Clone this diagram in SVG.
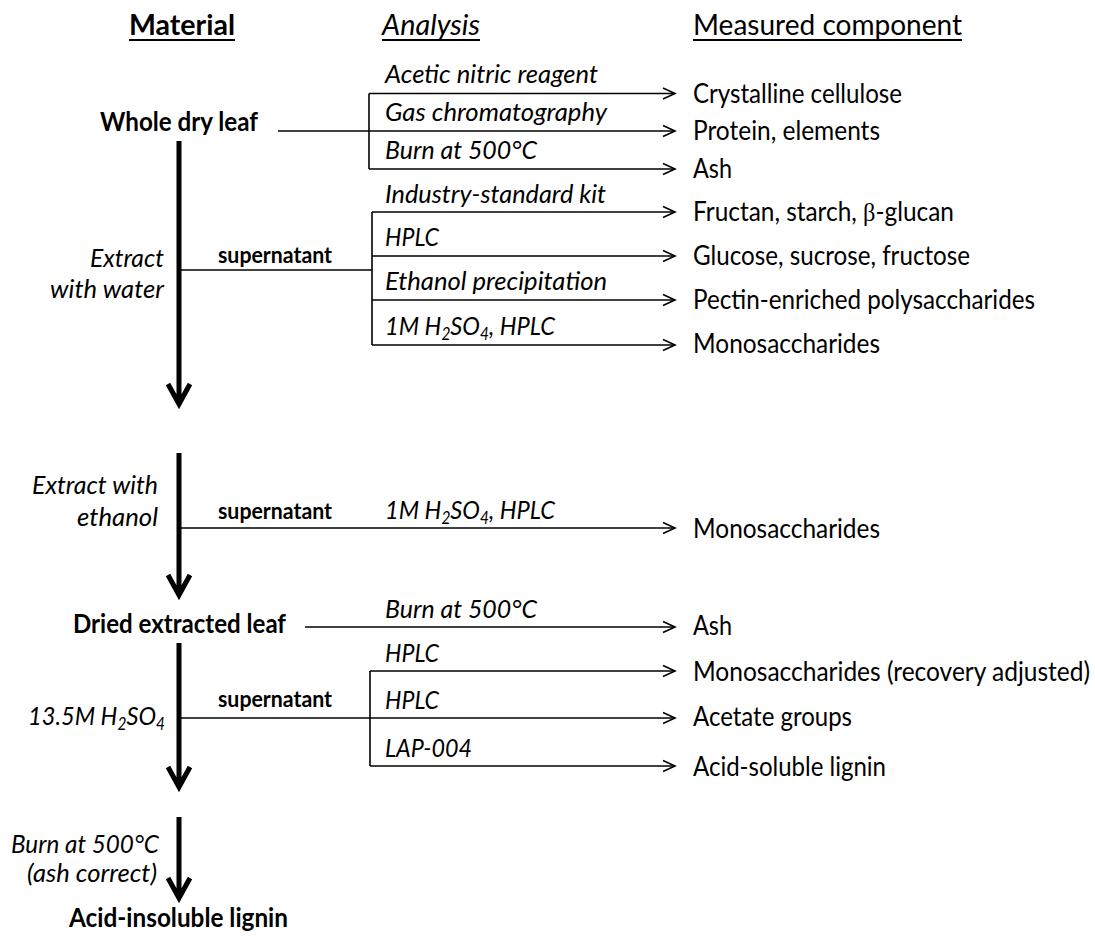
<svg xmlns="http://www.w3.org/2000/svg" width="1095" height="939" viewBox="0 0 1095 939">
<style>
text{font-family:Lato,"Liberation Sans",sans-serif;font-size:26px;fill:#000}
.i{font-style:italic}
.b{font-weight:bold}
.h{font-size:29px}
.s{font-size:22px;font-weight:bold}
.sub{font-size:17px}
.ln{stroke:#000;stroke-width:1.6;fill:none}
.arr{marker-end:url(#open)}
.thick{stroke:#000;stroke-width:5;fill:none;stroke-linejoin:miter;stroke-miterlimit:10}
.ul{stroke:#000;stroke-width:1.8}
</style>
<defs>
<marker id="open" markerUnits="userSpaceOnUse" viewBox="-14 -8 16 16" refX="0" refY="0" markerWidth="16" markerHeight="16" orient="auto" overflow="visible">
<path d="M-12,-5.5 L0,0 L-12,5.5" fill="none" stroke="#000" stroke-width="1.6"/>
</marker>
</defs>

<g id="headers">
<text class="b h" x="129" y="35" textLength="106" lengthAdjust="spacingAndGlyphs">Material</text>
<line class="ul" x1="129" y1="40" x2="235" y2="40"/>
<text class="i h" x="382" y="35" textLength="98" lengthAdjust="spacingAndGlyphs">Analysis</text>
<line class="ul" x1="382" y1="40" x2="480" y2="40"/>
<text class="h" x="693" y="35" textLength="269" lengthAdjust="spacingAndGlyphs">Measured component</text>
<line class="ul" x1="693" y1="40" x2="962" y2="40"/>
</g>

<g id="connectors">
<!-- whole dry leaf -->
<path class="ln arr" d="M278,131 H675"/>
<path class="ln" d="M369,93.5 V169"/>
<path class="ln arr" d="M369,93.5 H675"/>
<path class="ln arr" d="M369,169 H675"/>
<!-- water supernatant -->
<path class="ln" d="M179,270 H372"/>
<path class="ln" d="M372,212 V345"/>
<path class="ln arr" d="M372,212 H675"/>
<path class="ln arr" d="M372,256 H675"/>
<path class="ln arr" d="M372,300 H675"/>
<path class="ln arr" d="M372,345 H675"/>
<!-- ethanol supernatant -->
<path class="ln arr" d="M179,528 H675"/>
<!-- dried extracted leaf -->
<path class="ln arr" d="M305,627 H675"/>
<!-- 13.5M supernatant -->
<path class="ln arr" d="M179,718 H675"/>
<path class="ln" d="M370,671 V766"/>
<path class="ln arr" d="M370,671 H675"/>
<path class="ln arr" d="M370,766 H675"/>
<!-- thick process arrows -->
<path class="thick" d="M179,141 V404 M168,384 L179,404 L190,384"/>
<path class="thick" d="M179,453 V595 M168,575 L179,595 L190,575"/>
<path class="thick" d="M179,643 V787 M168,767 L179,787 L190,767"/>
<path class="thick" d="M179,817 V898 M168,878 L179,898 L190,878"/>
</g>

<g id="whole-dry-leaf">
<text class="b" x="100" y="131" textLength="158" lengthAdjust="spacingAndGlyphs">Whole dry leaf</text>
</g>
<g id="extract-water">
<text class="i" x="90" y="267" textLength="74" lengthAdjust="spacingAndGlyphs">Extract</text>
<text class="i" x="50" y="298" textLength="114" lengthAdjust="spacingAndGlyphs">with water</text>
<text class="s" x="218" y="263" textLength="114" lengthAdjust="spacingAndGlyphs">supernatant</text>
</g>
<g id="extract-ethanol">
<text class="i" x="32" y="494" textLength="126" lengthAdjust="spacingAndGlyphs">Extract with</text>
<text class="i" x="77" y="526" textLength="81" lengthAdjust="spacingAndGlyphs">ethanol</text>
<text class="s" x="218" y="519" textLength="114" lengthAdjust="spacingAndGlyphs">supernatant</text>
</g>
<g id="dried-extracted-leaf">
<text class="b" x="73" y="633" textLength="213" lengthAdjust="spacingAndGlyphs">Dried extracted leaf</text>
</g>
<g id="acid-hydrolysis">
<text class="i" x="28" y="725" textLength="137" lengthAdjust="spacingAndGlyphs">13.5M H<tspan class="sub" dy="5">2</tspan><tspan dy="-5">SO</tspan><tspan class="sub" dy="5">4</tspan></text>
<text class="s" x="218" y="707" textLength="114" lengthAdjust="spacingAndGlyphs">supernatant</text>
</g>
<g id="burn-ash-correct">
<text class="i" x="11" y="853" textLength="148" lengthAdjust="spacingAndGlyphs">Burn at 500°C</text>
<text class="i" x="27" y="882" textLength="130" lengthAdjust="spacingAndGlyphs">(ash correct)</text>
</g>
<g id="acid-insoluble-lignin">
<text class="b" x="69" y="927" textLength="219" lengthAdjust="spacingAndGlyphs">Acid-insoluble lignin</text>
</g>

<g id="analysis">
<text class="i" x="385" y="83" textLength="213" lengthAdjust="spacingAndGlyphs">Acetic nitric reagent</text>
<text class="i" x="385" y="121" textLength="222" lengthAdjust="spacingAndGlyphs">Gas chromatography</text>
<text class="i" x="385" y="159" textLength="152" lengthAdjust="spacingAndGlyphs">Burn at 500°C</text>
<text class="i" x="385" y="203" textLength="221" lengthAdjust="spacingAndGlyphs">Industry-standard kit</text>
<text class="i" x="385" y="246" textLength="54" lengthAdjust="spacingAndGlyphs">HPLC</text>
<text class="i" x="385" y="290" textLength="222" lengthAdjust="spacingAndGlyphs">Ethanol precipitation</text>
<text class="i" x="385" y="335" textLength="170" lengthAdjust="spacingAndGlyphs">1M H<tspan class="sub" dy="5">2</tspan><tspan dy="-5">SO</tspan><tspan class="sub" dy="5">4</tspan><tspan dy="-5">, HPLC</tspan></text>
<text class="i" x="385" y="519" textLength="170" lengthAdjust="spacingAndGlyphs">1M H<tspan class="sub" dy="5">2</tspan><tspan dy="-5">SO</tspan><tspan class="sub" dy="5">4</tspan><tspan dy="-5">, HPLC</tspan></text>
<text class="i" x="385" y="618" textLength="152" lengthAdjust="spacingAndGlyphs">Burn at 500°C</text>
<text class="i" x="385" y="662" textLength="54" lengthAdjust="spacingAndGlyphs">HPLC</text>
<text class="i" x="385" y="709" textLength="54" lengthAdjust="spacingAndGlyphs">HPLC</text>
<text class="i" x="385" y="757" textLength="87" lengthAdjust="spacingAndGlyphs">LAP-004</text>
</g>

<g id="components">
<text x="693" y="103" textLength="209" lengthAdjust="spacingAndGlyphs">Crystalline cellulose</text>
<text x="693" y="140" textLength="187" lengthAdjust="spacingAndGlyphs">Protein, elements</text>
<text x="693" y="178" textLength="39" lengthAdjust="spacingAndGlyphs">Ash</text>
<text x="693" y="221" textLength="261" lengthAdjust="spacingAndGlyphs">Fructan, starch, <tspan font-family="'Liberation Serif',serif">β</tspan>-glucan</text>
<text x="693" y="265" textLength="277" lengthAdjust="spacingAndGlyphs">Glucose, sucrose, fructose</text>
<text x="693" y="309" textLength="342" lengthAdjust="spacingAndGlyphs">Pectin-enriched polysaccharides</text>
<text x="693" y="353" textLength="187" lengthAdjust="spacingAndGlyphs">Monosaccharides</text>
<text x="693" y="538" textLength="187" lengthAdjust="spacingAndGlyphs">Monosaccharides</text>
<text x="693" y="635" textLength="39" lengthAdjust="spacingAndGlyphs">Ash</text>
<text x="693" y="681" textLength="397" lengthAdjust="spacingAndGlyphs">Monosaccharides (recovery adjusted)</text>
<text x="693" y="726" textLength="159" lengthAdjust="spacingAndGlyphs">Acetate groups</text>
<text x="693" y="776" textLength="193" lengthAdjust="spacingAndGlyphs">Acid-soluble lignin</text>
</g>
</svg>
